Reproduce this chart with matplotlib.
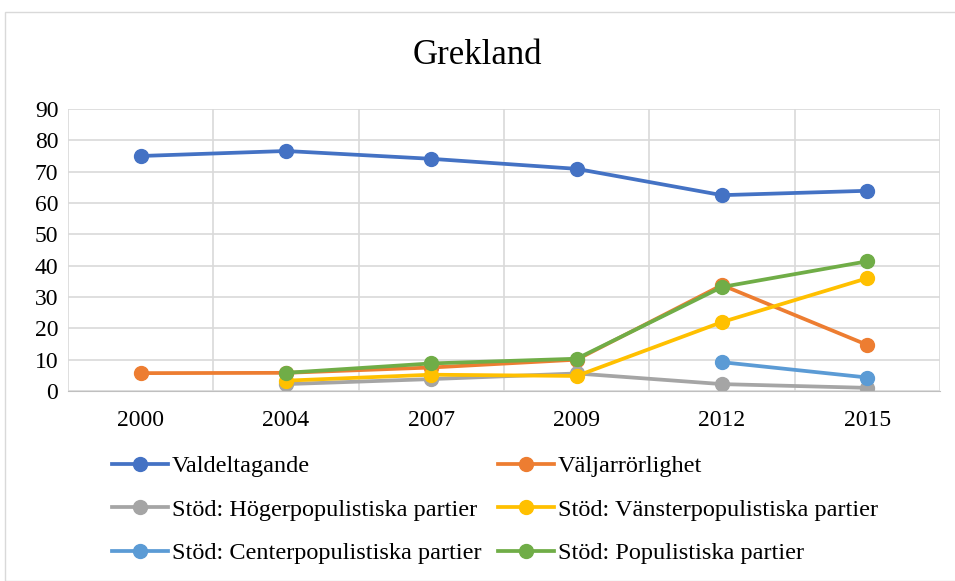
import numpy as np
import matplotlib.pyplot as plt
from matplotlib.patches import Rectangle

plt.rcParams['font.family'] = ['Liberation Serif', 'DejaVu Serif']

years = ['2000', '2004', '2007', '2009', '2012', '2015']
nan = np.nan
valdeltagande = [75.0, 76.6, 74.1, 70.9, 62.5, 63.9]
valjarrorlighet = [5.7, 5.8, 7.5, 10.0, 33.8, 14.7]
hoger = [nan, 2.2, 3.8, 5.6, 2.2, 1.0]
vanster = [nan, 3.3, 5.2, 4.8, 22.0, 36.0]
center = [nan, nan, nan, nan, 9.2, 4.3]
populist = [nan, 5.8, 8.8, 10.3, 33.2, 41.4]

series = [
    ('Valdeltagande', valdeltagande, '#4472C4'),
    ('Väljarrörlighet', valjarrorlighet, '#ED7D31'),
    ('Stöd: Högerpopulistiska partier', hoger, '#A5A5A5'),
    ('Stöd: Vänsterpopulistiska partier', vanster, '#FFC000'),
    ('Stöd: Centerpopulistiska partier', center, '#5B9BD5'),
    ('Stöd: Populistiska partier', populist, '#70AD47'),
]

fig = plt.figure(figsize=(9.55, 5.81), dpi=100)
fig.patches.append(Rectangle((5/955, 0), 1, 1 - 12/581, transform=fig.transFigure,
                             fill=False, edgecolor='#D9D9D9', lw=1))
ax = fig.add_axes([68/955, 1 - 391/581, (940 - 68)/955, (391 - 109)/581])

x = np.arange(len(years))
lines = {}
for name, vals, col in series:
    l, = ax.plot(x, vals, color=col, lw=2.7, marker='o', ms=10, label=name)
    lines[name] = l

ax.set_xlim(-0.5, len(years) - 0.5)
ax.set_ylim(0, 90)
ax.set_yticks(range(0, 91, 10))
ax.set_xticks(x)
ax.set_xticklabels(years)
ax.set_xticks(np.arange(-0.5, len(years), 1), minor=True)
ax.grid(axis='y', color='#D9D9D9', lw=1.2)
ax.grid(axis='x', which='minor', color='#D9D9D9', lw=1.2)
ax.set_axisbelow(True)
for s in ['top', 'right', 'left']:
    ax.spines[s].set_visible(False)
ax.spines['bottom'].set_color('#BFBFBF')
ax.tick_params(axis='both', which='both', length=0, labelsize=17)
ax.tick_params(axis='x', pad=14)
ax.tick_params(axis='y', pad=7)

fig.text(0.5, 1 - 55/581, 'Grekland', ha='center', va='center', fontsize=25)

order = ['Valdeltagande', 'Stöd: Högerpopulistiska partier', 'Stöd: Centerpopulistiska partier',
         'Väljarrörlighet', 'Stöd: Vänsterpopulistiska partier', 'Stöd: Populistiska partier']
fig.legend([lines[n] for n in order], order, ncol=2, loc='upper left',
           bbox_to_anchor=(112/955, 1 - 455/581), frameon=False, fontsize=17.5,
           handlelength=2.3, handletextpad=0.15, columnspacing=0.7, labelspacing=0.89,
           borderpad=0, borderaxespad=0)

fig.savefig('out.png', dpi=100)
